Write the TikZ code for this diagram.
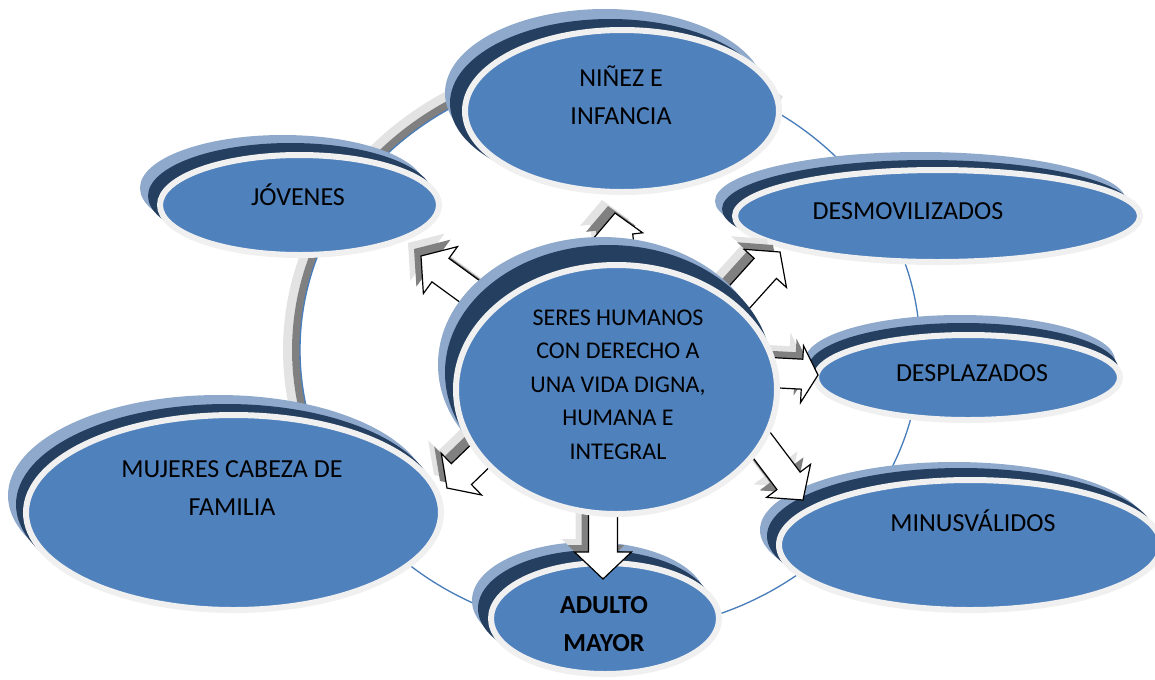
\documentclass[tikz,border=0pt]{standalone}
\usepackage{fontspec}
\setmainfont{Carlito}
\usetikzlibrary{shapes.geometric}
\definecolor{mainblue}{HTML}{4F81BD}
\definecolor{navyband}{HTML}{243F60}
\definecolor{lightband}{HTML}{8EA9CC}
\definecolor{ringgray}{HTML}{F0F0F0}
\definecolor{circleblue}{HTML}{4A7EBB}
\definecolor{shadowdark}{HTML}{808080}
\definecolor{shadowlight}{HTML}{E3E3E3}
% name, cx, cy, Rx, Ry, navy dx, navy dy, light dx, light dy
\newcommand{\bubble}[9]{%
  \fill[lightband] ({#2+(#8)},{#3+(#9)}) ellipse [x radius=#4, y radius=#5];
  \fill[navyband] ({#2+(#6)},{#3+(#7)}) ellipse [x radius=#4, y radius=#5];
  \node[ringnode, minimum width={(1.5*#4-4.5)*1pt}, minimum height={(1.5*#5-4.5)*1pt}] (#1) at (#2,#3) {};
}
% tip, angle, length, shaft width, head width, head length
\newcommand{\blockarrow}[6]{%
  \fill[shadowlight, shift={(#1)}, shift={(-13,-13)}, rotate=#2]
    (0,0) -- ({-#6},{#5/2}) -- ({-#6},{#4/2}) -- ({-#3},{#4/2}) -- ({-#3},{-#4/2}) -- ({-#6},{-#4/2}) -- ({-#6},{-#5/2}) -- cycle;
  \fill[shadowdark, shift={(#1)}, shift={(-7,-7)}, rotate=#2]
    (0,0) -- ({-#6},{#5/2}) -- ({-#6},{#4/2}) -- ({-#3},{#4/2}) -- ({-#3},{-#4/2}) -- ({-#6},{-#4/2}) -- ({-#6},{-#5/2}) -- cycle;
  \filldraw[arrowbody, shift={(#1)}, rotate=#2]
    (0,0) -- ({-#6},{#5/2}) -- ({-#6},{#4/2}) -- ({-#3},{#4/2}) -- ({-#3},{-#4/2}) -- ({-#6},{-#4/2}) -- ({-#6},{-#5/2}) -- cycle;
}
\begin{document}
\begin{tikzpicture}[x=0.75pt,y=-0.75pt,
  ringnode/.style={ellipse, fill=mainblue, draw=ringgray, line width=4.5pt, inner sep=0pt},
  outertext/.style={align=center, font=\fontsize{19.5}{28.5}\selectfont, inner sep=0pt},
  centertext/.style={align=center, font=\fontsize{18}{25.2}\selectfont, inner sep=0pt},
  arrowbody/.style={fill=white, draw=black, line width=0.9pt, line join=miter},
]
\useasboundingbox (0,0) rectangle (1155,679);
\fill[white] (0,0) rectangle (1155,679);

% surrounding ring with its 3D shadow
\draw[shadowlight, line width=6.75pt] plot[domain=166:302, samples=90, smooth] ({610+322.5*cos(\x)},{350+294.5*sin(\x)});
\draw[shadowdark, line width=6pt] plot[domain=166:302, samples=90, smooth] ({610+314*cos(\x)},{350+286*sin(\x)});
\draw[circleblue, line width=1pt] (610,350) ellipse [x radius=310, y radius=282];

% outer bubbles
\bubble{ninez}{622}{111}{160}{84}{-12}{-8}{-17}{-18}
\bubble{jovenes}{299.5}{205}{142.5}{53}{-9}{-9}{-17}{-17}
\bubble{desmov}{937.5}{216}{205.5}{49}{-10}{-7}{-17}{-15}
\bubble{despl}{968}{377.5}{155}{45.5}{-5}{-9}{-8}{-17}
\bubble{minus}{970}{545}{194}{68}{-9}{-9}{-16}{-15}
\bubble{mujeres}{233.5}{512.5}{210.5}{100.5}{-7}{-8}{-15}{-17}
\bubble{adulto}{605}{618.5}{117}{58.5}{-10}{-10}{-16}{-18}

% arrow tips
\coordinate (tipN) at (615,213);
\coordinate (tipJ) at (421,256);
\coordinate (tipDm) at (780,252);
\coordinate (tipDp) at (818,375);
\coordinate (tipMi) at (803,500);
\coordinate (tipMu) at (447,488);
\coordinate (tipA) at (603,579);

\blockarrow{tipN}{97}{90}{30}{50}{23}
\blockarrow{tipJ}{144}{110}{29}{58}{24}
\blockarrow{tipDm}{48}{100}{30}{57}{22}
\blockarrow{tipDp}{-3}{100}{30}{57}{16}
\blockarrow{tipMi}{-53}{100}{29}{55}{24}
\blockarrow{tipMu}{224}{100}{29}{58}{20}
\blockarrow{tipA}{-90}{100}{29}{57}{27}

% central bubble
\bubble{central}{616.5}{389.5}{163.5}{127.5}{-8}{-17}{-15}{-25}

% texts
\node[outertext] (ninezT) at (621,95) {NIÑEZ E\\INFANCIA};
\node[outertext] (jovenesT) at (298,195) {JÓVENES};
\node[outertext] (desmovT) at (908,211) {DESMOVILIZADOS};
\node[outertext] (desplT) at (972,373) {DESPLAZADOS};
\node[outertext] (minusT) at (973,521) {MINUSVÁLIDOS};
\node[outertext] (mujeresT) at (232,488.5) {MUJERES CABEZA DE\\FAMILIA};
\node[centertext] (centralT) at (618,384.5) {SERES HUMANOS\\CON DERECHO A\\UNA VIDA DIGNA,\\HUMANA E\\INTEGRAL};
\node[outertext, font=\fontsize{19.5}{28.5}\selectfont\bfseries] (adultoT) at (604,624) {ADULTO\\MAYOR};
\end{tikzpicture}
\end{document}
